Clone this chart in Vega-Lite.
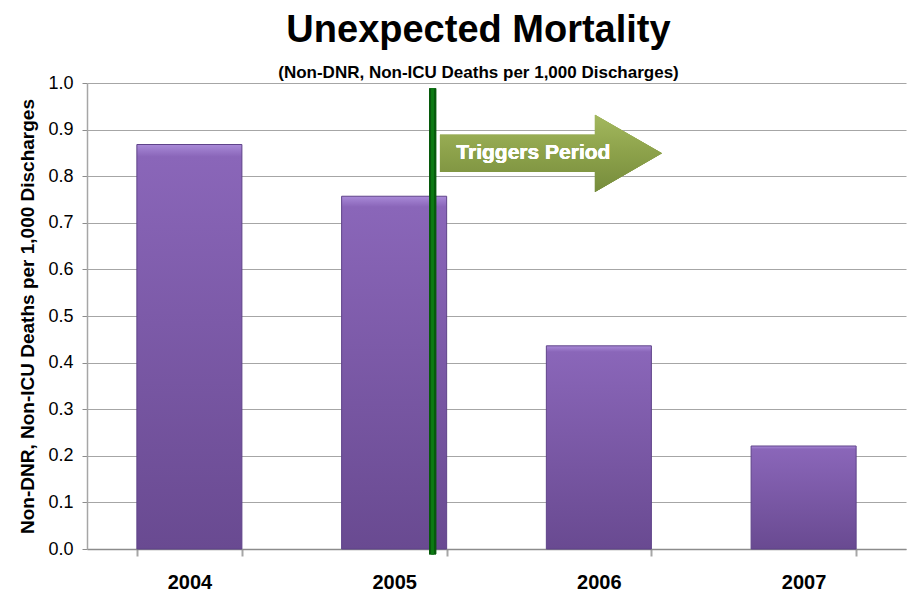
{
  "$schema": "https://vega.github.io/schema/vega-lite/v6.json",
  "width": 819,
  "height": 466,
  "autosize": "none",
  "padding": {"left": 87, "top": 83, "right": 3, "bottom": 46},
  "background": "white",
  "config": {
    "view": {"stroke": null},
    "font": "Liberation Sans"
  },
  "title": {
    "text": "Unexpected Mortality",
    "subtitle": "(Non-DNR, Non-ICU Deaths per 1,000 Discharges)",
    "font": "Liberation Sans",
    "fontSize": 38,
    "fontWeight": "bold",
    "color": "#000000",
    "subtitleFont": "Liberation Sans",
    "subtitleFontSize": 17,
    "subtitleFontWeight": "bold",
    "subtitleColor": "#000000",
    "subtitlePadding": 15,
    "anchor": "middle",
    "dx": -18,
    "offset": -7
  },
  "data": {
    "values": [
      {"year": "2004", "rate": 0.868},
      {"year": "2005", "rate": 0.757},
      {"year": "2006", "rate": 0.436},
      {"year": "2007", "rate": 0.221}
    ]
  },
  "layer": [
    {
      "mark": {
        "type": "bar",
        "color": {
          "gradient": "linear",
          "x1": 0, "y1": 0, "x2": 0, "y2": 1,
          "stops": [
            {"offset": 0, "color": "#a98ad8"},
            {"offset": 0.03, "color": "#8a66b9"},
            {"offset": 1, "color": "#694a91"}
          ]
        },
        "stroke": "#5f4389",
        "strokeWidth": 1
      },
      "encoding": {
        "x": {
          "field": "year",
          "type": "nominal",
          "scale": {"paddingInner": 0.487, "paddingOuter": 0.2436},
          "axis": {
            "title": null,
            "labelAngle": 0,
            "labelFont": "Liberation Sans",
            "labelFontSize": 20,
            "labelFontWeight": "bold",
            "labelColor": "#000000",
            "labelPadding": 16,
            "tickBand": "extent",
            "tickSize": 7,
            "tickColor": "#a6a6a6",
            "tickWidth": 2,
            "domainColor": "#8c8c8c",
            "domainWidth": 1.5,
            "grid": false
          }
        },
        "y": {
          "field": "rate",
          "type": "quantitative",
          "scale": {"domain": [0, 1]},
          "axis": {
            "title": "Non-DNR, Non-ICU Deaths per 1,000 Discharges",
            "titleFont": "Liberation Sans",
            "titleFontSize": 19,
            "titleFontWeight": "bold",
            "titleColor": "#000000",
            "titlePadding": 10,
            "values": [0, 0.1, 0.2, 0.3, 0.4, 0.5, 0.6, 0.7, 0.8, 0.9, 1.0],
            "format": ".1f",
            "labelFont": "Liberation Sans",
            "labelFontSize": 18,
            "labelColor": "#000000",
            "labelPadding": 9,
            "tickSize": 5,
            "tickColor": "#8c8c8c",
            "domainColor": "#a6a6a6",
            "domainWidth": 1.5,
            "grid": true,
            "gridColor": "#a6a6a6",
            "gridWidth": 1.2
          }
        }
      }
    },
    {
      "mark": {
        "type": "rule",
        "strokeWidth": 7,
        "color": "#075a0c"
      },
      "encoding": {
        "x": {"datum": 1.688, "type": "quantitative", "scale": {"domain": [0, 4]}, "axis": null},
        "y": {"datum": 0.988, "type": "quantitative"},
        "y2": {"datum": -0.011}
      }
    },
    {
      "mark": {
        "type": "rule",
        "strokeWidth": 2.5,
        "color": "#0d7a14"
      },
      "encoding": {
        "x": {"datum": 1.688, "type": "quantitative", "scale": {"domain": [0, 4]}, "axis": null},
        "y": {"datum": 0.988, "type": "quantitative"},
        "y2": {"datum": -0.011}
      }
    },
    {
      "mark": {
        "type": "point",
        "filled": true,
        "opacity": 1,
        "shape": "M-1,-0.167 L0.396,-0.167 L0.396,-0.347 L1,0 L0.396,0.347 L0.396,0.167 L-1,0.167 Z",
        "size": 49284,
        "strokeWidth": 0,
        "fill": {
          "gradient": "linear",
          "x1": 0, "y1": 0, "x2": 0, "y2": 1,
          "stops": [
            {"offset": 0, "color": "#a3b85e"},
            {"offset": 0.5, "color": "#8ca14a"},
            {"offset": 1, "color": "#768c3c"}
          ]
        }
      },
      "encoding": {
        "x": {"datum": 2.266, "type": "quantitative", "scale": {"domain": [0, 4]}, "axis": null},
        "y": {"datum": 0.849, "type": "quantitative"}
      }
    },
    {
      "mark": {
        "type": "text",
        "text": "Triggers Period",
        "font": "Liberation Sans",
        "fontSize": 21,
        "fontWeight": "bold",
        "color": "#ffffff",
        "align": "center",
        "baseline": "middle"
      },
      "encoding": {
        "x": {"datum": 2.18, "type": "quantitative", "scale": {"domain": [0, 4]}, "axis": null},
        "y": {"datum": 0.85, "type": "quantitative"}
      }
    }
  ],
  "resolve": {"scale": {"x": "independent"}, "axis": {"x": "independent"}}
}
